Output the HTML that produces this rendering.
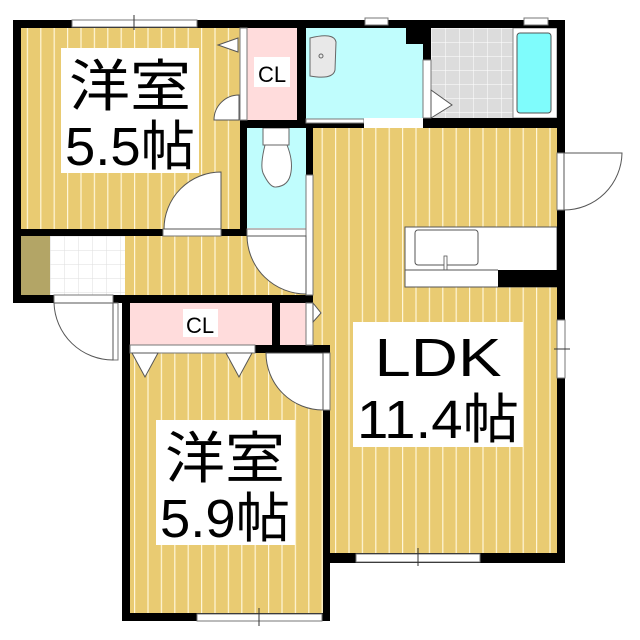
<!DOCTYPE html>
<html><head><meta charset="utf-8"><style>
html,body{margin:0;padding:0;background:#fff;width:640px;height:640px;overflow:hidden}
svg{display:block}
text{font-family:"Liberation Sans","Noto Sans CJK JP",sans-serif;fill:#000}
</style></head><body>
<svg width="640" height="640" viewBox="0 0 640 640" xmlns="http://www.w3.org/2000/svg">
<defs>
<pattern id="wood" x="0" y="0" width="13.4" height="10" patternUnits="userSpaceOnUse">
<rect width="13.4" height="10" fill="#e9cb72"/>
<rect x="0" width="1.2" height="10" fill="#fff6d8"/>
</pattern>
<pattern id="tile" x="50" y="236" width="14" height="14" patternUnits="userSpaceOnUse">
<rect width="14" height="14" fill="#fff"/>
<path d="M0 0H14M0 0V14" stroke="#ddd" stroke-width="1"/>
</pattern>
<pattern id="tileg" x="431" y="28" width="14" height="14" patternUnits="userSpaceOnUse">
<rect width="14" height="14" fill="#dcdcdc"/>
<path d="M0 0H14M0 0V14" stroke="#fff" stroke-width="1"/>
</pattern>
</defs>

<rect x="21" y="28" width="219" height="201" fill="url(#wood)"/>
<rect x="21" y="236" width="292" height="59" fill="url(#wood)"/>
<rect x="313" y="128" width="244" height="425" fill="url(#wood)"/>
<rect x="130" y="353" width="193" height="260" fill="url(#wood)"/>
<rect x="21" y="236" width="29" height="59" fill="#b3a566"/>
<rect x="50" y="236" width="75" height="59" fill="url(#tile)"/>

<rect x="247" y="28" width="50" height="92" fill="#ffdcdc"/>
<rect x="130" y="303" width="142" height="42" fill="#ffdcdc"/>
<rect x="280" y="303" width="26" height="42" fill="#ffdcdc"/>

<rect x="306" y="28" width="117" height="92" fill="#c0fdfd"/>
<rect x="247" y="128" width="59" height="100" fill="#c0fdfd"/>
<rect x="431" y="28" width="82" height="90" fill="url(#tileg)"/>
<rect x="513" y="28" width="44" height="90" fill="#fff" stroke="#888" stroke-width="1"/>
<rect x="517" y="33" width="34" height="80" rx="3" fill="#7ffcfc" stroke="#555" stroke-width="1"/>
<path d="M310 38 Q334 32 336 42 L335 70 Q333 80 310 76 Z" fill="#e8e8e8" stroke="#666" stroke-width="1"/>
<circle cx="321" cy="56" r="2" fill="none" stroke="#666"/>
<rect x="263" y="128" width="26" height="17" fill="#fff" stroke="#666" stroke-width="1"/>
<path d="M265 145 Q260 165 263 173 Q270 188 276 187 Q289 186 291 172 Q293 160 287 145 Z" fill="#fff" stroke="#666" stroke-width="1"/>

<rect x="405" y="227" width="152" height="60" fill="#fff" stroke="#555" stroke-width="1"/>
<rect x="415" y="230" width="63" height="35" rx="3" fill="#fff" stroke="#555" stroke-width="1"/>
<rect x="444" y="256" width="3" height="14" fill="#fff" stroke="#555" stroke-width="0.8"/>
<line x1="405" y1="270" x2="498" y2="270" stroke="#555"/>
<rect x="498" y="270" width="59" height="17" fill="#000"/>

<g fill="#000">
<rect x="13" y="20" width="552" height="8"/>
<rect x="13" y="20" width="8" height="283"/>
<rect x="13" y="229" width="235" height="7"/>
<rect x="13" y="295" width="300" height="8"/>
<rect x="240" y="120" width="7" height="116"/>
<rect x="240" y="120" width="124" height="8"/>
<rect x="297" y="20" width="9" height="100"/>
<rect x="306" y="128" width="7" height="47"/>
<rect x="247" y="229" width="66" height="7"/>
<rect x="406" y="28" width="17" height="16"/>
<rect x="423" y="20" width="8" height="40"/>
<rect x="423" y="118" width="142" height="10"/>
<rect x="557" y="20" width="8" height="543"/>
<rect x="330" y="553" width="235" height="10"/>
<rect x="323" y="345" width="7" height="276"/>
<rect x="122" y="303" width="8" height="318"/>
<rect x="122" y="613" width="208" height="8"/>
<rect x="272" y="303" width="8" height="42"/>
<rect x="255" y="345" width="75" height="8"/>
</g>

<g fill="#fff" stroke="#777" stroke-width="1">
<rect x="72" y="20" width="125" height="7"/>
<rect x="365" y="18" width="23" height="7"/>
<rect x="524" y="18" width="24" height="7"/>
<rect x="163" y="229" width="58" height="7"/>
<rect x="54" y="295" width="59" height="8"/>
<rect x="356" y="554" width="124" height="8"/>
<rect x="197" y="614" width="125" height="7"/>
<rect x="557" y="320" width="8" height="58"/>
<rect x="557" y="153" width="7" height="57"/>
<rect x="306" y="119" width="58" height="4"/>
<rect x="247" y="229" width="59" height="7"/>
<rect x="306" y="175" width="7" height="120"/>
<rect x="240" y="28" width="7" height="92"/>
<rect x="423" y="60" width="8" height="58"/>
<rect x="306" y="303" width="7" height="42"/>
<rect x="130" y="345" width="125" height="8"/>
<rect x="113" y="303" width="5" height="57"/>
<rect x="323" y="353" width="7" height="57"/>
</g>
<rect x="364" y="118" width="59" height="10" fill="#fff"/>
<g stroke="#333" stroke-width="1" fill="none">
<line x1="134" y1="15" x2="134" y2="30"/>
<line x1="418" y1="548" x2="418" y2="566"/>
<line x1="259" y1="608" x2="259" y2="626"/>
<line x1="554" y1="349" x2="570" y2="349"/>
</g>

<g fill="#fff" stroke="#555" stroke-width="1">
<path d="M221 229 L221 172 A57 57 0 0 0 164 229 Z"/>
<path d="M239 120 L239 95 A25 25 0 0 0 214 120 Z"/>
<path d="M247 236 L306 236 L306 294 A59 59 0 0 1 247 236 Z"/>
<path d="M54 303 L113 303 L113 360 A59 59 0 0 1 54 303 Z"/>
<path d="M323 353 L323 410 A57 57 0 0 1 266 353 Z"/>
<path d="M564 153 L622 153 A58 58 0 0 1 564 210 Z"/>
<path d="M238 38 L218 45 L238 52 Z"/>
<path d="M431 90 L452 105 L431 118 Z" />
<path d="M313 303 L321 313 L313 322 Z"/>
<path d="M132 353 L145 377 L158 353 Z"/>
<path d="M226 353 L239 377 L252 353 Z"/>
</g>

<rect x="61" y="48" width="138" height="125" fill="#fff"/>
<text x="130" y="106" font-size="56" text-anchor="middle" textLength="122" lengthAdjust="spacingAndGlyphs">洋室</text>
<text x="130" y="165" font-size="54" text-anchor="middle" textLength="130" lengthAdjust="spacingAndGlyphs">5.5帖</text>

<rect x="156" y="420" width="139" height="125" fill="#fff"/>
<text x="225" y="478" font-size="56" text-anchor="middle" textLength="120" lengthAdjust="spacingAndGlyphs">洋室</text>
<text x="225" y="537" font-size="54" text-anchor="middle" textLength="130" lengthAdjust="spacingAndGlyphs">5.9帖</text>

<rect x="353" y="322" width="170" height="125" fill="#fff"/>
<text x="438" y="376" font-size="54" text-anchor="middle" textLength="127" lengthAdjust="spacingAndGlyphs">LDK</text>
<text x="438" y="438" font-size="54" text-anchor="middle" textLength="162" lengthAdjust="spacingAndGlyphs">11.4帖</text>

<rect x="254" y="57" width="36" height="30" fill="#fff"/>
<text x="272" y="82" font-size="22" text-anchor="middle">CL</text>
<rect x="183" y="309" width="35" height="28" fill="#fff"/>
<text x="200" y="333" font-size="22" text-anchor="middle">CL</text>
</svg>
</body></html>
